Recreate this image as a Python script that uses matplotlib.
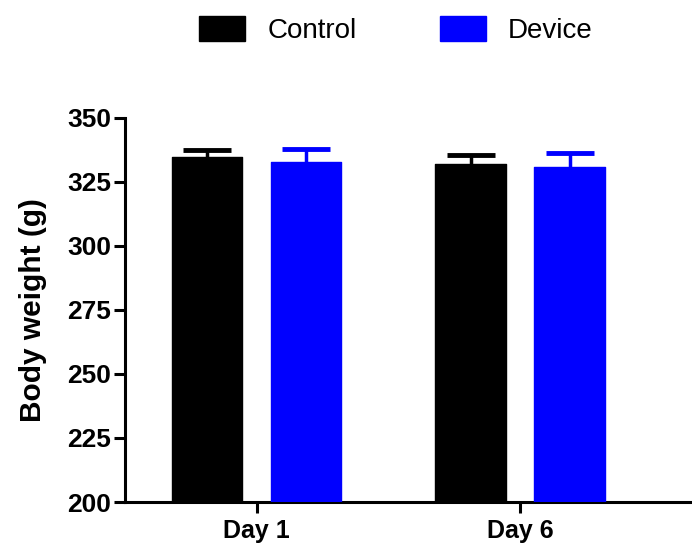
import matplotlib
matplotlib.use("Agg")
import matplotlib.pyplot as plt
import numpy as np

plt.rcParams['font.family'] = ['Liberation Sans', 'DejaVu Sans']

days = ["Day 1", "Day 6"]
groups = ["Control", "Device"]
control_mean = [334.7, 331.7]
control_err = [2.6, 3.7]
device_mean = [332.8, 330.7]
device_err = [4.8, 5.6]
yticks = [200, 225, 250, 275, 300, 325, 350]

fig = plt.figure(figsize=(6.92, 5.44), dpi=100)
ax = fig.add_axes([125/692, 1-502/544, 1-125/692, (502-117.5)/544])

x = np.arange(len(days))
off = 0.188
w = 0.268
colors = ["black", "#0000ff"]
for i, (m, e) in enumerate([(control_mean, control_err), (device_mean, device_err)]):
    pos = x + (-off if i == 0 else off)
    ax.bar(pos, m, width=w, color=colors[i], label=groups[i], zorder=3,
           edgecolor=colors[i], linewidth=1.0, joinstyle='round')
    ax.errorbar(pos, m, yerr=e, fmt='none', ecolor=colors[i],
                elinewidth=2.5, capsize=17.5, capthick=3.5, zorder=2)

ax.set_ylim(200, 350)
ax.set_xlim(-0.5, 1.653)
ax.set_yticks(yticks)
ax.set_xticks(x)
ax.set_xticklabels(days, fontsize=18, fontweight='bold')
for lab in ax.get_yticklabels():
    lab.set_fontweight('bold')
    lab.set_fontsize(19)
ax.set_ylabel("Body weight (g)", fontsize=21.5, fontweight='bold')
ax.yaxis.set_label_coords(-(125-47)/567, 0.5)
for s in ["top", "right"]:
    ax.spines[s].set_visible(False)
for s in ["left", "bottom"]:
    ax.spines[s].set_linewidth(2.2)
ax.tick_params(axis='both', width=2.2, length=8, pad=2, colors='black')
ax.tick_params(axis='x', pad=4)

leg = fig.legend(loc='center', bbox_to_anchor=(396/692, 1-30/544), ncol=2, frameon=False,
                 fontsize=20, handlelength=1.65, handleheight=1.0, handletextpad=0.8,
                 columnspacing=3.0)

fig.savefig("out.png", dpi=100)
